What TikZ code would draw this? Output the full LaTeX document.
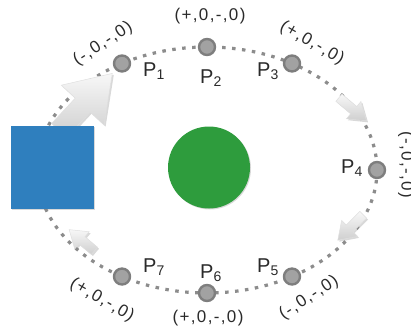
\documentclass[tikz,border=0pt]{standalone}
\usepackage{fontspec}
\setmainfont{Liberation Sans}
\newfontfamily\signfont[LetterSpace=8]{Liberation Sans}
\usetikzlibrary{calc,shapes.arrows,shadows,positioning}
\definecolor{dotgray}{HTML}{8C8C8C}
\definecolor{ptfill}{HTML}{A2A2A2}
\definecolor{ptline}{HTML}{7E7E7E}
\definecolor{boxblue}{HTML}{2F7FBE}
\definecolor{ballgreen}{HTML}{2E9C3D}
\definecolor{txtgray}{HTML}{2A2A2A}

\begin{document}
\begin{tikzpicture}[x=1pt,y=-1pt,
  track/.style={dotgray,line width=3.2pt,dash pattern=on 3.5pt off 6.5pt},
  pt/.style={circle,draw=ptline,fill=ptfill,line width=2.4pt,minimum size=16pt,inner sep=0pt},
  plabel/.style={font=\fontsize{20}{20}\selectfont,text=txtgray,inner sep=0pt},
  sign/.style={font=\signfont\fontsize{17}{17}\selectfont,text=txtgray,inner sep=0pt},
  dirarrow/.style={single arrow,single arrow tip angle=68,draw=gray!25,line width=.5pt,top color=gray!6,bottom color=gray!38,drop shadow={opacity=.3,shadow xshift=1.5pt,shadow yshift=-1.5pt}},
  bigarrow/.style={dirarrow,inner sep=10pt,single arrow head extend=19pt,minimum height=78pt},
  smallarrow/.style={dirarrow,inner sep=4.5pt,single arrow head extend=6.5pt,minimum height=36pt}]
\useasboundingbox (0,0) rectangle (411,334);
\coordinate (c) at (207,170);
\draw[track] (c) ellipse [x radius=170,y radius=123];
\node[bigarrow,rotate=47] (a1) at (80.5,107.5){};
\node[smallarrow,rotate=-40] (a2) at (350,107){};
\node[smallarrow,rotate=-135] (a3) at (353,225){};
\node[smallarrow,rotate=140,minimum height=33pt] (a4) at (84.5,242.5){};
\node[draw=none,fill=boxblue,minimum size=83pt,inner sep=0pt,drop shadow={opacity=.3,shadow xshift=1pt,shadow yshift=-1pt}] (box) at (52.5,167.5){};
\node[circle,fill=ballgreen,minimum size=82pt,inner sep=0pt,drop shadow={opacity=.3,shadow xshift=1pt,shadow yshift=-1pt}] (ball) at (209,167.5){};
\node[pt] (p1) at ($(c)+(120:170 and -123)$){};
\node[pt] (p2) at ($(c)+(90:170 and -123)$){};
\node[pt] (p3) at ($(c)+(60:170 and -123)$){};
\node[pt] (p4) at ($(c)+(0:170 and -123)$){};
\node[pt] (p5) at ($(c)+(-60:170 and -123)$){};
\node[pt] (p6) at ($(c)+(-90:170 and -123)$){};
\node[pt] (p7) at ($(c)+(-120:170 and -123)$){};
\node[plabel] (l1) at (154,71){P\textsubscript{1}};
\node[plabel] (l2) at (211,78){P\textsubscript{2}};
\node[plabel] (l3) at (268,71){P\textsubscript{3}};
\node[plabel] (l4) at (352,168){P\textsubscript{4}};
\node[plabel] (l5) at (268,267){P\textsubscript{5}};
\node[plabel] (l6) at (211,273){P\textsubscript{6}};
\node[plabel] (l7) at (154,267){P\textsubscript{7}};
\node[sign,rotate=33] (s1) at (103,44){(-,0,-,0)};
\node[sign] (s2) at (210,16){(+,0,-,0)};
\node[sign,rotate=-30] (s3) at (312,43){(+,0,-,0)};
\node[sign,rotate=-90] (s4) at (406,165){(-,0,-,0)};
\node[sign,rotate=33] (s5) at (309,298){(-,0,-,0)};
\node[sign] (s6) at (208,318){(+,0,-,0)};
\node[sign,rotate=-30] (s7) at (102,300){(+,0,-,0)};
\end{tikzpicture}
\end{document}
